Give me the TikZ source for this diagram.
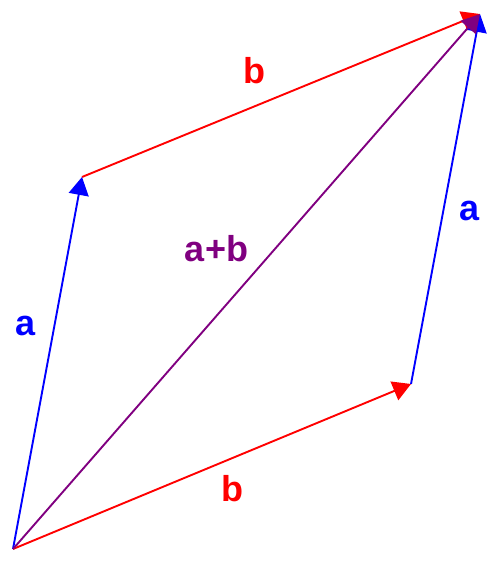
\documentclass[tikz,border=0pt]{standalone}
\usepackage{fontspec}
\setmainfont{Liberation Sans}
\usetikzlibrary{arrows.meta}
\definecolor{vblue}{RGB}{0,0,255}
\definecolor{vred}{RGB}{255,0,0}
\definecolor{vpurple}{RGB}{128,0,128}
\tikzset{
  vec/.style={line width=1.9pt, -{Triangle[length=18pt,width=20pt]}},
  lbl/.style={inner sep=0pt, anchor=base, font=\fontsize{36}{40}\selectfont\bfseries},
}
\begin{document}
\begin{tikzpicture}[x=1pt,y=-1pt]
\useasboundingbox (0,0) rectangle (496,565);
\coordinate (O) at (13,549);
\coordinate (A) at (82,177);
\coordinate (B) at (411,384);
\coordinate (S) at (480,14);
\draw[vec, vred] (O) -- (B);
\draw[vec, vred] (A) -- (S);
\draw[vec, vblue] (O) -- (A);
\draw[vec, vblue] (B) -- (S);
\draw[vec, vpurple] (O) -- (S);
\node[lbl, text=vred] (lbt) at (254,83) {b};
\node[lbl, text=vred] (lbb) at (232,501) {b};
\node[lbl, text=vblue] (lar) at (469.5,220) {a};
\node[lbl, text=vblue] (lal) at (25.5,335) {a};
\node[lbl, text=vpurple] (lab) at (216.5,261) {a+b};
\end{tikzpicture}
\end{document}
